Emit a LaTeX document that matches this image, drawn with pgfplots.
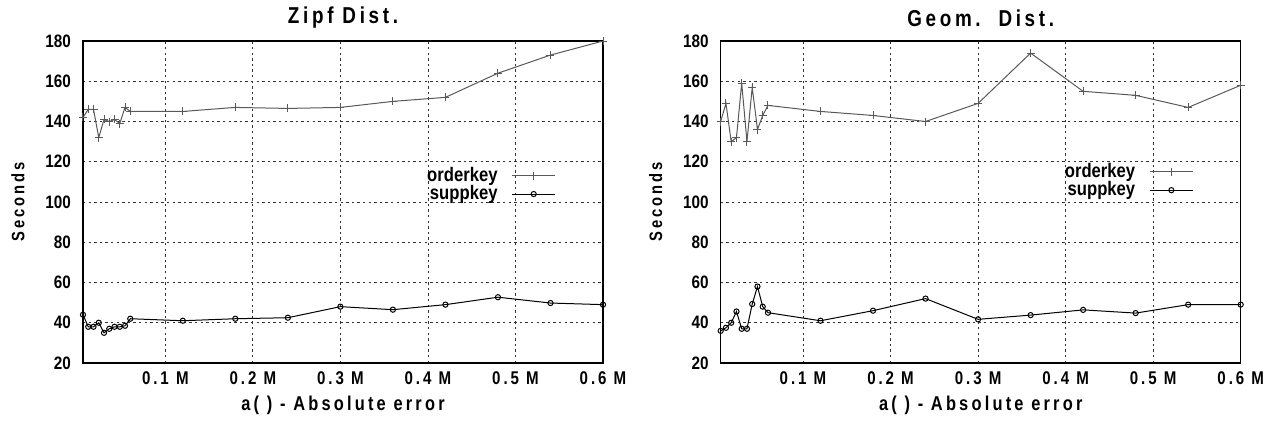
\documentclass[border=0pt]{standalone}
\usepackage{fontspec}
\setmainfont{Liberation Sans}[FakeStretch=0.85]
\newfontfamily\spfont{Liberation Sans}[FakeStretch=0.82,LetterSpace=16]
\usepackage{pgfplots}
\pgfplotsset{compat=1.18}

\pgfplotsset{
  gp/.style={
    scale only axis, width=260pt, height=161pt,
    xmin=0.006, xmax=0.6, ymin=20, ymax=180,
    xtick={0.1,0.2,0.3,0.4,0.5,0.6},
    xticklabels={0.1 M,0.2 M,0.3 M,0.4 M,0.5 M,0.6 M},
    ytick={20,40,...,180},
    /pgf/number format/assume math mode=true,
    tick style={draw=none},
    grid=major,
    grid style={black!80, line width=0.4pt, dash pattern=on 1.2pt off 1.6pt},
    axis line style={black, line width=0.6pt},
    every axis title shift=0pt,
    xticklabel style={font=\spfont\bfseries\fontsize{9.2}{10}\selectfont, anchor=center, yshift=-7.5pt},
    yticklabel style={font=\bfseries\fontsize{9}{10}\selectfont, xshift=-2.5pt},
    xlabel={a( ) - Absolute error},
    ylabel={Seconds},
    xlabel style={font=\spfont\bfseries\fontsize{10}{11}\selectfont, at={(axis description cs:0.5,0)}, anchor=center, yshift=-21pt},
    ylabel style={font=\spfont\bfseries\fontsize{9}{11}\selectfont, at={(axis description cs:-0.125,0.5)}, anchor=center},
    title style={font=\spfont\bfseries\fontsize{11.5}{12}\selectfont, at={(axis description cs:0.5,1)}, anchor=center, yshift=11.5pt},
    legend style={draw=none, fill=none, anchor=east, font=\bfseries\fontsize{9.8}{10}\selectfont,
      row sep=-3.5pt, column sep=5pt, inner sep=0pt},
    legend cell align=right,
    legend plot pos=right,
    legend image code/.code={\draw[mark repeat=2,mark phase=2] plot coordinates {(0cm,0cm) (0.38cm,0cm) (0.76cm,0cm)};},
  },
  ok/.style={color=black!65, line width=0.5pt, mark=+, mark size=2pt, mark options={solid, line width=0.5pt}},
  sk/.style={color=black, line width=0.5pt, mark=o, mark size=1.3pt, mark options={solid, line width=0.5pt}},
}

\begin{document}
\begin{tikzpicture}
\path[use as bounding box] (0,0) rectangle (635.5pt,212.5pt);

% Zipf
\begin{axis}[gp, at={(41.5pt,31pt)}, anchor=south west, title={Zipf Dist.},
  legend style={at={(0.91,0.553)}}]
\addplot[ok] coordinates {
 (0.006,142) (0.012,146) (0.018,146) (0.024,132) (0.030,141) (0.036,140)
 (0.042,141) (0.048,139) (0.054,147) (0.060,145) (0.12,145) (0.18,147)
 (0.24,146.5) (0.30,147) (0.36,150) (0.42,152) (0.48,164) (0.54,173) (0.60,180)};
\addplot[sk] coordinates {
 (0.006,44) (0.012,38) (0.018,38) (0.024,40) (0.030,35) (0.036,37)
 (0.042,38) (0.048,38) (0.054,38.5) (0.060,42) (0.12,41) (0.18,42)
 (0.24,42.5) (0.30,48) (0.36,46.5) (0.42,49) (0.48,52.7) (0.54,49.8) (0.60,49)};
\legend{orderkey, suppkey}
\end{axis}

% Geom
\begin{axis}[gp, at={(360.35pt,31pt)}, anchor=south west, title={Geom.\ \ Dist.},
  legend style={at={(0.91,0.565)}}]
\addplot[ok] coordinates {
 (0.006,140) (0.012,149) (0.018,130) (0.024,132) (0.030,159) (0.036,130)
 (0.042,157) (0.048,136) (0.054,143) (0.060,148) (0.12,145) (0.18,143)
 (0.24,140) (0.30,149) (0.36,174) (0.42,155) (0.48,153) (0.54,147) (0.60,158)};
\addplot[sk] coordinates {
 (0.006,36) (0.012,37.5) (0.018,40) (0.024,45.6) (0.030,37) (0.036,37)
 (0.042,49.3) (0.048,58) (0.054,48) (0.060,45) (0.12,41) (0.18,46)
 (0.24,52) (0.30,41.7) (0.36,43.8) (0.42,46.4) (0.48,44.8) (0.54,49) (0.60,49)};
\legend{orderkey, suppkey}
\end{axis}
\end{tikzpicture}
\end{document}
